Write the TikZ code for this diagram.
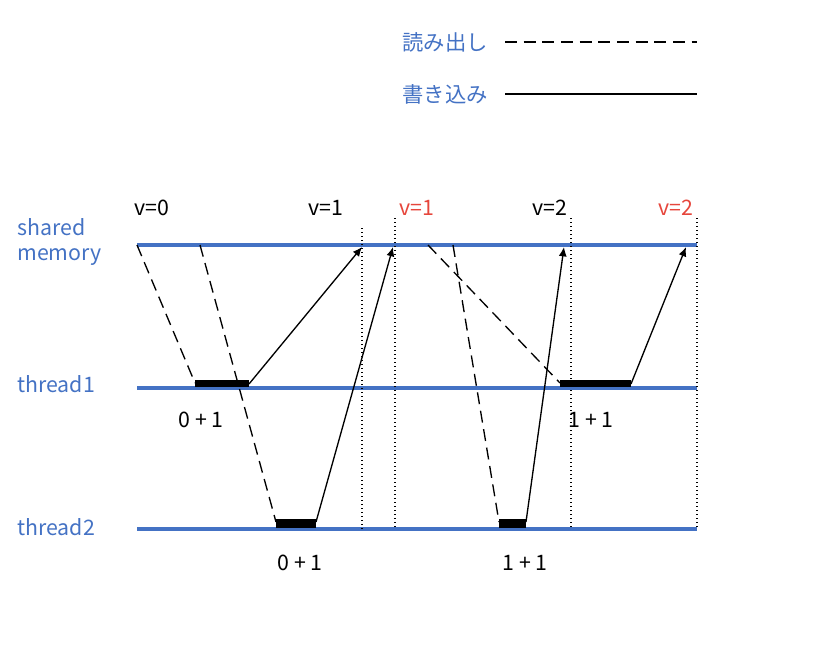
\documentclass[tikz,border=0pt]{standalone}
\usepackage{fontspec}
\setmainfont{Noto Sans CJK JP}
\usetikzlibrary{arrows.meta}
\begin{document}
\begin{tikzpicture}[x=0.75pt,y=-0.75pt,
  lane/.style={draw=blueL,line width=2.4pt},
  lbl/.style={text=blueL,font=\fontsize{16}{19}\selectfont,align=left,inner sep=0pt},
  txt/.style={font=\fontsize{16}{19}\selectfont},
  bar/.style={fill=black},
  rd/.style={dashed,dash pattern=on 9pt off 5pt,line width=1pt},
  wr/.style={-{Latex[length=7pt,width=6pt]},line width=1pt},
  guide/.style={dotted,line width=1pt}]
\definecolor{blueL}{RGB}{68,114,196}
\definecolor{redL}{RGB}{230,70,60}
\useasboundingbox (0,0) rectangle (826,664);
% legend
\node[lbl,anchor=east] (lr) at (488,42) {読み出し};
\coordinate (lr1) at (505,42); \coordinate (lr2) at (697,42);
\draw[rd] (lr1) -- (lr2);
\node[lbl,anchor=east] (lw) at (488,94) {書き込み};
\coordinate (lw1) at (505,94); \coordinate (lw2) at (697,94);
\draw[line width=1pt] (lw1) -- (lw2);
% lanes
\coordinate (m1) at (137,245); \coordinate (m2) at (697,245);
\coordinate (a1) at (137,388); \coordinate (a2) at (697,388);
\coordinate (b1) at (137,529); \coordinate (b2) at (697,529);
\draw[lane] (m1) -- (m2); \draw[lane] (a1) -- (a2); \draw[lane] (b1) -- (b2);
\node[lbl,anchor=west,align=left] (sm) at (17,242) {shared\\memory};
\node[lbl,anchor=west] (t1) at (17,384) {thread1};
\node[lbl,anchor=west] (t2) at (17,527) {thread2};
% top labels
\node[txt] (v0) at (152,208) {v=0};
\node[txt] (v1) at (326,208) {v=1};
\node[txt,text=redL] (v1r) at (417,208) {v=1};
\node[txt] (v2) at (550,208) {v=2};
\node[txt,text=redL] (v2r) at (676,208) {v=2};
% guides
\coordinate (g1t) at (362,228); \coordinate (g1b) at (362,529);
\coordinate (g2t) at (395,218); \coordinate (g2b) at (395,529);
\coordinate (g3t) at (571,218); \coordinate (g3b) at (571,529);
\coordinate (g4t) at (697,218); \coordinate (g4b) at (697,529);
\draw[guide] (g1t)--(g1b); \draw[guide] (g2t)--(g2b);
\draw[guide] (g3t)--(g3b); \draw[guide] (g4t)--(g4b);
% bars
\fill[bar] (195,380) rectangle (249,387);
\fill[bar] (276,519) rectangle (316,528);
\fill[bar] (560,380) rectangle (631,387);
\fill[bar] (499,519) rectangle (526,528);
% reads
\coordinate (r1a) at (137,245); \coordinate (r1b) at (195,383);
\coordinate (r2a) at (200,245); \coordinate (r2b) at (276,522);
\coordinate (r3a) at (428,245); \coordinate (r3b) at (560,383);
\coordinate (r4a) at (453,245); \coordinate (r4b) at (499,522);
\draw[rd] (r1a)--(r1b); \draw[rd] (r2a)--(r2b);
\draw[rd] (r3a)--(r3b); \draw[rd] (r4a)--(r4b);
% writes
\coordinate (w1a) at (249,384); \coordinate (w1b) at (362,247);
\coordinate (w2a) at (316,522); \coordinate (w2b) at (393,247);
\coordinate (w3a) at (526,522); \coordinate (w3b) at (564,247);
\coordinate (w4a) at (631,384); \coordinate (w4b) at (686,247);
\draw[wr] (w1a)--(w1b); \draw[wr] (w2a)--(w2b);
\draw[wr] (w3a)--(w3b); \draw[wr] (w4a)--(w4b);
% sums
\node[txt] (s1) at (201,420) {0 + 1};
\node[txt] (s2) at (300,563) {0 + 1};
\node[txt] (s3) at (591,420) {1 + 1};
\node[txt] (s4) at (525,563) {1 + 1};
\end{tikzpicture}
\end{document}
